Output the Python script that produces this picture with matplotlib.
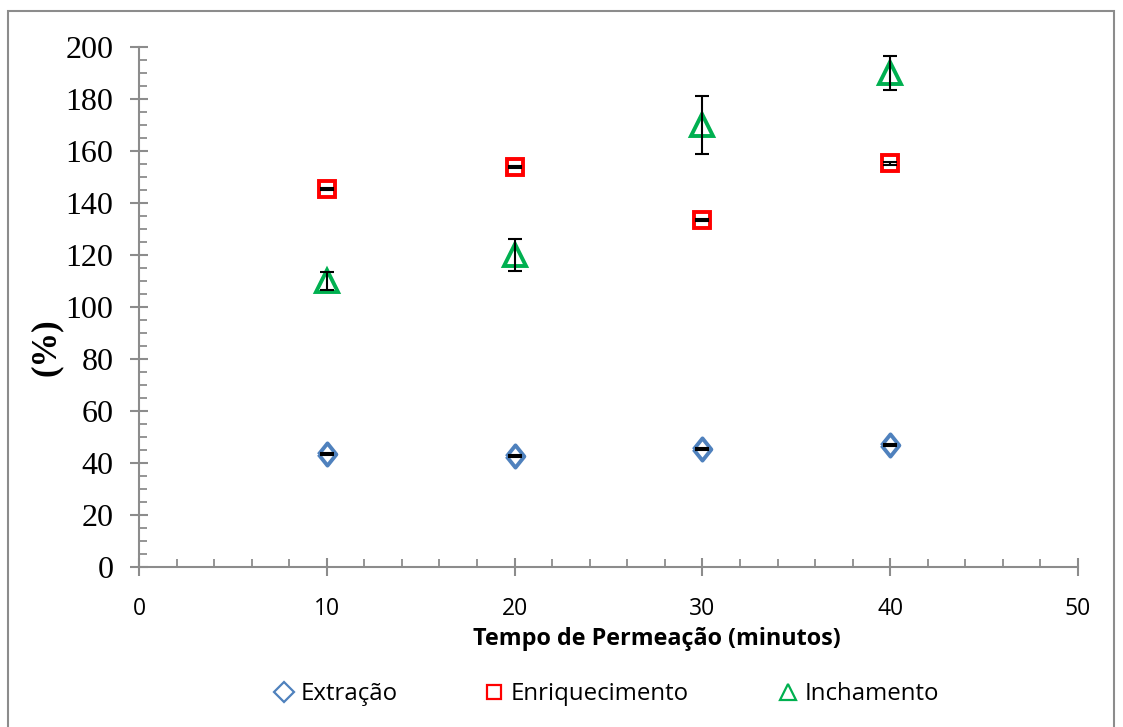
import matplotlib
matplotlib.use("agg")
import matplotlib.pyplot as plt
from matplotlib.ticker import MultipleLocator
from matplotlib.patches import Rectangle
from matplotlib.lines import Line2D

tempo = [10, 20, 30, 40]

extracao = [43.5, 42.7, 45.4, 46.9]
extracao_err = [0.4, 0.4, 0.4, 0.5]

enriquecimento = [145.3, 154.0, 133.6, 155.2]
enriquecimento_err = [0.4, 0.4, 0.4, 0.4]

inchamento = [110.0, 120.0, 170.0, 190.0]
inchamento_err = [3.5, 6.3, 11.3, 6.5]

fig = plt.figure(figsize=(11.23, 7.27), dpi=100)
ax = fig.add_axes([139 / 1123, 1 - 567 / 727, (1078 - 139) / 1123, (567 - 47) / 727])

# outer chart frame
fig.patches.append(Rectangle((8 / 1123, -0.01), 1106 / 1123, 1 - 11 / 727 + 0.01,
                             transform=fig.transFigure, fill=False,
                             edgecolor="#8c8c8c", linewidth=1.5))

diamond = [(-0.4, 0), (0, 0.5), (0.4, 0), (0, -0.5), (-0.4, 0)]

series = [
    (extracao, extracao_err, diamond, "D", "#4f81bd", 16, 10, "Extração"),
    (enriquecimento, enriquecimento_err, "s", "s", "#ff0000", 12, 10, "Enriquecimento"),
    (inchamento, inchamento_err, "^", "^", "#00b050", 16, 11, "Inchamento"),
]
handles = []
for vals, err, mk, lmk, col, ms, lms, lab in series:
    ax.plot(tempo, vals, linestyle="none", marker=mk, mfc="white", mec=col,
            mew=2.8, ms=ms, zorder=2)
    ax.errorbar(tempo, vals, yerr=err, fmt="none", ecolor="black", elinewidth=1.5,
                capsize=4.7, capthick=1.5, zorder=3)
    # thinner marker for the legend, as in the original
    handles.append(Line2D([], [], linestyle="none", marker=lmk, mfc="white",
                          mec=col, mew=1.6, ms=lms, label=lab))

ax.set_xlim(0, 50)
ax.set_ylim(0, 200)
ax.xaxis.set_major_locator(MultipleLocator(10))
ax.xaxis.set_minor_locator(MultipleLocator(2))
ax.yaxis.set_major_locator(MultipleLocator(20))
ax.yaxis.set_minor_locator(MultipleLocator(5))

for s in ["top", "right"]:
    ax.spines[s].set_visible(False)
for s in ["left", "bottom"]:
    ax.spines[s].set_color("#8c8c8c")
    ax.spines[s].set_linewidth(1.5)

ax.tick_params(which="major", direction="inout", length=13, width=1.5, color="#8c8c8c")
ax.tick_params(which="minor", direction="in", length=5.8, width=1.3, color="#8c8c8c")
ax.tick_params(axis="y", labelsize=23, pad=12)
ax.tick_params(axis="x", labelsize=16.5, pad=15)
for t in ax.get_yticklabels():
    t.set_family("Liberation Serif")
for t in ax.get_xticklabels():
    t.set_family("Open Sans")

ax.set_ylabel("(%)", fontsize=25, fontweight="bold", family="Liberation Serif")
ax.yaxis.set_label_coords(-0.081, 0.423)
ax.set_xlabel("Tempo de Permeação (minutos)", fontsize=16.8, fontweight="bold",
              family="Open Sans")
ax.xaxis.set_label_coords(0.551, -0.115)

# legend entries placed like the original's slots
legend_x = [274, 484, 778]
for h, x0 in zip(handles, legend_x):
    fig.legend([h], [h.get_label()], loc="center left",
               bbox_to_anchor=(x0 / 1123, 1 - 694 / 727), frameon=False,
               prop={"family": "Open Sans", "size": 17.3}, borderpad=0,
               borderaxespad=0, handlelength=0.8, handletextpad=0.3)

fig.savefig("out.png", dpi=100)
plt.close(fig)
